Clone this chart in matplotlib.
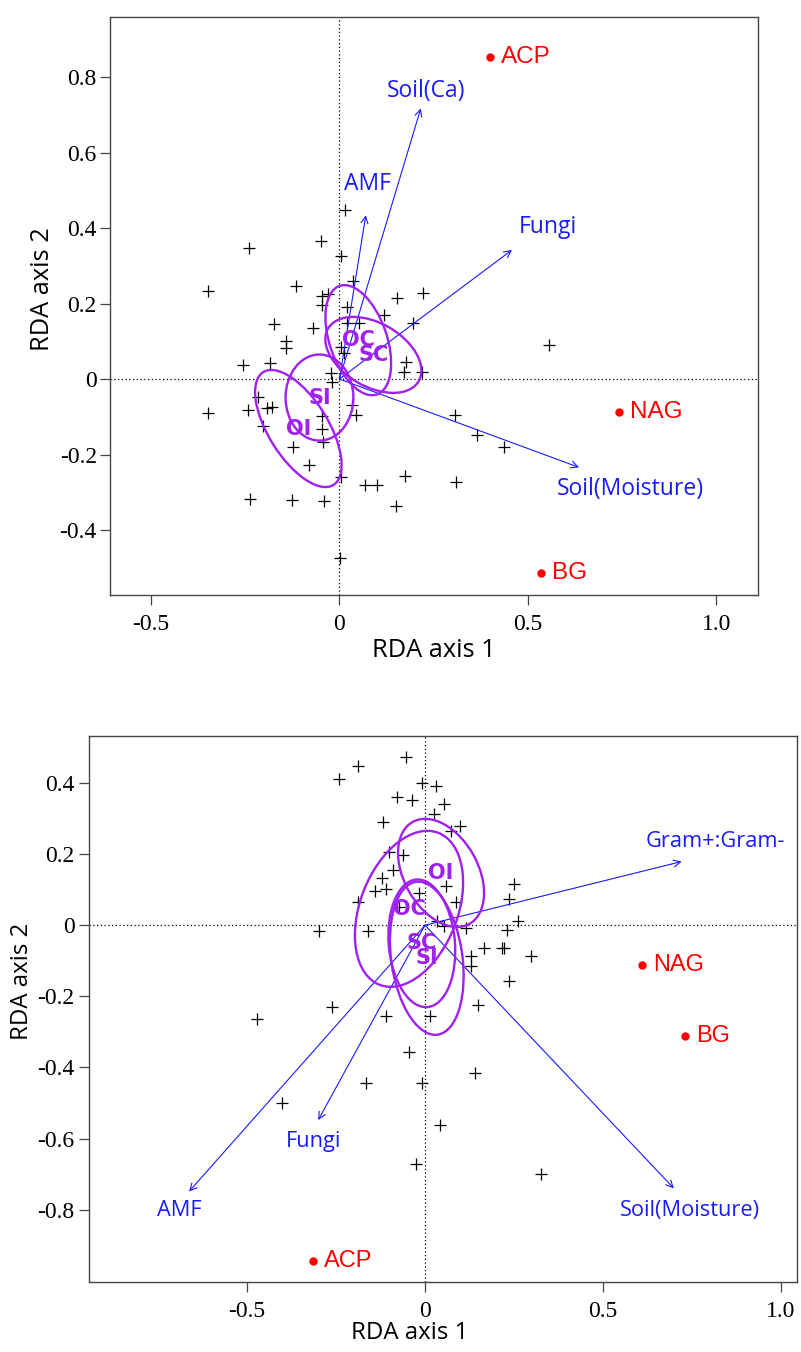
#!/usr/bin/env python3
# -*- coding: utf-8 -*-
"""Two RDA triplots (sites, response arrows, group ellipses)."""

import numpy as np
import matplotlib
matplotlib.use("Agg")
import matplotlib.pyplot as plt
from matplotlib.patches import Ellipse, FancyArrowPatch

# =============================================================================
# panel 1 data

SITES1_X = [0.016, -0.240, -0.049, 0.005, -0.348, -0.116, 0.035, -0.045, -0.031, -0.047,
            0.020, 0.117, -0.175, -0.069, 0.020, 0.053, 0.152, 0.223, 0.195, -0.141,
            -0.141, 0.005, 0.011, -0.257, -0.184, 0.177, -0.022, -0.020, -0.350, -0.244,
            -0.217, -0.193, -0.179, -0.203, -0.047, -0.047, -0.044, -0.122, -0.082, 0.004,
            0.033, 0.044, 0.068, 0.099, -0.237, -0.126, -0.040, 0.150, 0.002, 0.172,
            0.219, 0.174, 0.309, 0.307, 0.555, 0.365, 0.437]
SITES1_Y = [0.448, 0.346, 0.366, 0.326, 0.233, 0.247, 0.260, 0.221, 0.225, 0.196,
            0.192, 0.170, 0.147, 0.134, 0.149, 0.149, 0.214, 0.229, 0.149, 0.101,
            0.081, 0.086, 0.068, 0.037, 0.042, 0.044, 0.015, -0.007, -0.091, -0.082,
            -0.047, -0.078, -0.075, -0.124, -0.098, -0.133, -0.166, -0.179, -0.228, -0.259,
            -0.069, -0.095, -0.281, -0.281, -0.319, -0.320, -0.323, -0.336, -0.475, 0.019,
            0.019, -0.257, -0.272, -0.095, 0.090, -0.148, -0.179]

ENZ1_NAMES = ["ACP", "NAG", "BG"]
ENZ1_X = [0.400, 0.743, 0.535]
ENZ1_Y = [0.854, -0.087, -0.515]

ARROW1_NAMES = ["Soil(Ca)", "AMF", "Fungi", "Soil(Moisture)"]
ARROW1_X = [0.216, 0.070, 0.458, 0.636]
ARROW1_Y = [0.717, 0.434, 0.342, -0.234]
ARROW1_LX = [0.230, 0.073, 0.553, 0.773]
ARROW1_LY = [0.763, 0.516, 0.403, -0.290]

GROUPS1 = ["OC", "SC", "SI", "OI"]
ELL1_CX = [0.050, 0.090, -0.053, -0.109]
ELL1_CY = [0.103, 0.064, -0.049, -0.131]
ELL1_A = [0.152, 0.139, 0.114, 0.176]
ELL1_B = [0.076, 0.084, 0.090, 0.079]
ELL1_ANG = [109, 150, 90, 122]

# =============================================================================
# panel 2 data

SITES2_X = [-0.054, -0.189, -0.241, -0.009, 0.030, -0.078, -0.036, 0.053, 0.026, -0.117,
            0.098, 0.072, -0.100, -0.063, -0.089, -0.122, -0.110, -0.140, -0.189, -0.017,
            -0.073, 0.059, 0.086, 0.251, 0.235, 0.262, 0.033, 0.054, 0.115, 0.229,
            0.167, 0.215, 0.222, 0.297, 0.128, 0.128, 0.237, 0.150, 0.014, -0.298,
            -0.161, -0.260, -0.473, -0.110, -0.045, 0.140, -0.167, -0.009, -0.403, 0.042,
            -0.026, 0.326]
SITES2_Y = [0.473, 0.448, 0.412, 0.401, 0.392, 0.360, 0.352, 0.341, 0.314, 0.289,
            0.279, 0.266, 0.207, 0.196, 0.156, 0.132, 0.101, 0.095, 0.064, 0.090,
            0.052, 0.109, 0.064, 0.115, 0.073, 0.012, 0.012, -0.001, -0.007, -0.013,
            -0.063, -0.063, -0.063, -0.086, -0.086, -0.115, -0.156, -0.224, -0.255, -0.016,
            -0.016, -0.229, -0.264, -0.254, -0.356, -0.416, -0.444, -0.444, -0.499, -0.562,
            -0.671, -0.700]

ENZ2_NAMES = ["ACP", "NAG", "BG"]
ENZ2_X = [-0.314, 0.610, 0.730]
ENZ2_Y = [-0.944, -0.112, -0.313]

ARROW2_NAMES = ["Gram+:Gram-", "AMF", "Fungi", "Soil(Moisture)"]
ARROW2_X = [0.721, -0.663, -0.300, 0.699]
ARROW2_Y = [0.179, -0.749, -0.548, -0.740]
ARROW2_LX = [0.815, -0.690, -0.312, 0.744]
ARROW2_LY = [0.235, -0.803, -0.607, -0.803]

GROUPS2 = ["OC", "OI", "SC", "SI"]
ELL2_CX = [-0.045, 0.045, -0.009, 0.005]
ELL2_CY = [0.046, 0.147, -0.051, -0.093]
ELL2_A = [0.229, 0.164, 0.180, 0.217]
ELL2_B = [0.137, 0.104, 0.093, 0.100]
ELL2_ANG = [69, 119, 95, 98]

XTICKS = [-0.5, 0, 0.5, 1.0]
XTICKLABELS = ["-0.5", "0", "0.5", "1.0"]
YTICKS1 = [-0.4, -0.2, 0, 0.2, 0.4, 0.6, 0.8]
YTICKLABELS1 = ["-0.4", "-0.2", "0", "0.2", "0.4", "0.6", "0.8"]
YTICKS2 = [-0.8, -0.6, -0.4, -0.2, 0, 0.2, 0.4]
YTICKLABELS2 = ["-0.8", "-0.6", "-0.4", "-0.2", "0", "0.2", "0.4"]

PURPLE = "#A020F0"
BLUE = "#1a1aff"
RED = "#ff0000"
SERIF = "Liberation Serif"
SANS = "Open Sans"


# =============================================================================

def draw_panel(ax, sx, sy, ex, ey, enames, axx, axy, alx, aly, anames,
               gcx, gcy, ga, gb, gang, groups, yticks, yticklabels,
               xlim, ylim, fs_blue, fs_red, ytick_pad):
    ax.set_xlim(*xlim)
    ax.set_ylim(*ylim)

    ax.axhline(0, color="black", linestyle=(0, (1, 2)), linewidth=0.9, zorder=1)
    ax.axvline(0, color="black", linestyle=(0, (1, 2)), linewidth=0.9, zorder=1)

    # sites
    ax.plot(sx, sy, linestyle="none", marker="+", markersize=8,
            markeredgewidth=0.9, color="black", zorder=2)

    # response arrows
    for x, y, lx, ly, name in zip(axx, axy, alx, aly, anames):
        arr = FancyArrowPatch((0, 0), (x, y),
                              arrowstyle="->,head_length=0.5,head_width=0.25",
                              mutation_scale=10, color=BLUE, linewidth=0.8,
                              shrinkA=0, shrinkB=0, zorder=3)
        ax.add_patch(arr)
        ax.text(lx, ly, name, color=BLUE, fontsize=fs_blue, family=SANS,
                ha="center", va="center", zorder=5)

    # group ellipses
    for cx, cy, a, b, ang, g in zip(gcx, gcy, ga, gb, gang, groups):
        ell = Ellipse((cx, cy), 2 * a, 2 * b, angle=ang, fill=False,
                      edgecolor=PURPLE, linewidth=1.7, zorder=4)
        ax.add_patch(ell)
        ax.text(cx, cy, g, color=PURPLE, fontsize=15, fontweight="bold",
                family="DejaVu Sans", ha="center", va="center", zorder=5)

    # enzymes
    ax.plot(ex, ey, linestyle="none", marker="o", markersize=5,
            color=RED, zorder=5)
    for x, y, name in zip(ex, ey, enames):
        ax.annotate(name, (x, y), xytext=(8, 0), textcoords="offset points",
                    color=RED, fontsize=fs_red, family="Liberation Sans",
                    ha="left", va="center", zorder=5)

    ax.set_xticks(XTICKS)
    ax.set_xticklabels(XTICKLABELS, family=SERIF, fontsize=17)
    ax.set_yticks(yticks)
    ax.set_yticklabels(yticklabels, family=SERIF, fontsize=17)
    ax.tick_params(axis="both", direction="out", length=7, width=0.9,
                   color="#444444")
    ax.tick_params(axis="x", pad=7)
    ax.tick_params(axis="y", pad=ytick_pad)
    for sp in ax.spines.values():
        sp.set_color("#444444")
        sp.set_linewidth(1.0)


def main():
    W, H = 801, 1352
    fig = plt.figure(figsize=(W / 100, H / 100), dpi=100)

    ax1 = fig.add_axes([110 / W, 1 - 595 / H, 648 / W, 578 / H])
    draw_panel(ax1, SITES1_X, SITES1_Y, ENZ1_X, ENZ1_Y, ENZ1_NAMES,
               ARROW1_X, ARROW1_Y, ARROW1_LX, ARROW1_LY, ARROW1_NAMES,
               ELL1_CX, ELL1_CY, ELL1_A, ELL1_B, ELL1_ANG, GROUPS1,
               YTICKS1, YTICKLABELS1, (-0.609, 1.111), (-0.572, 0.959),
               16.5, 17.5, 2.5)

    ax2 = fig.add_axes([89 / W, 1 - 1281.7 / H, 708 / W, 545.7 / H])
    draw_panel(ax2, SITES2_X, SITES2_Y, ENZ2_X, ENZ2_Y, ENZ2_NAMES,
               ARROW2_X, ARROW2_Y, ARROW2_LX, ARROW2_LY, ARROW2_NAMES,
               ELL2_CX, ELL2_CY, ELL2_A, ELL2_B, ELL2_ANG, GROUPS2,
               YTICKS2, YTICKLABELS2, (-0.944, 1.045), (-1.0025, 0.532),
               15.7, 17, 3.5)

    # axis titles (placed like the original device output)
    fig.text(433.5 / W, 1 - 650 / H, "RDA axis 1", family=SANS, fontsize=18.3,
             ha="center", va="center")
    fig.text(42.5 / W, 1 - 289 / H, "RDA axis 2", family=SANS, fontsize=18.3,
             ha="center", va="center", rotation=90)
    fig.text(410 / W, 1 - 1333 / H, "RDA axis 1", family=SANS, fontsize=17.3,
             ha="center", va="center")
    fig.text(22.5 / W, 1 - 981 / H, "RDA axis 2", family=SANS, fontsize=17.3,
             ha="center", va="center", rotation=90)

    fig.savefig("out.png", dpi=100)


if __name__ == "__main__":
    main()
